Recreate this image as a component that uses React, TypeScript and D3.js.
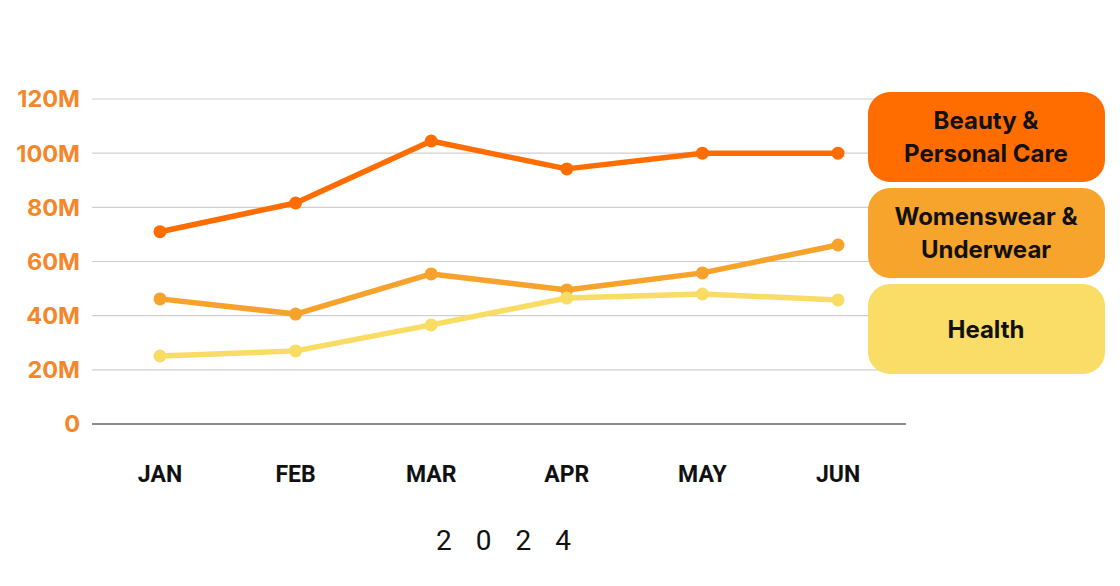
import * as d3 from 'd3';

const W = 1120, H = 586;
const ML = 92, MR = 214, MT = 99, MB = 162;

const months = ['JAN', 'FEB', 'MAR', 'APR', 'MAY', 'JUN'];
const yTicks = [0, 20, 40, 60, 80, 100, 120];
const beauty = [71, 81.6, 104.5, 94.2, 100, 100];
const womenswear = [46.2, 40.6, 55.4, 49.5, 55.8, 66.1];
const health = [25.1, 27, 36.6, 46.5, 48, 45.8];

const seriesNames = ['Beauty & Personal Care', 'Womenswear & Underwear', 'Health'];
const legendLines = [['Beauty &', 'Personal Care'], ['Womenswear &', 'Underwear'], ['Health']];
const colors = ['#ff6c00', '#f7a42c', '#f9dd66'];
const lineColors = ['#ff6d00', '#f6a22b', '#f9dc63'];

const series = [beauty, womenswear, health];

export default function App() {
  const x = d3.scalePoint<string>().domain(months).range([160, 838]);
  const y = d3.scaleLinear().domain([0, 120]).range([H - MB, MT]);
  const line = d3.line<number>()
    .x((_, i) => x(months[i]) as number)
    .y((d) => y(d));

  const legendY = d3.scaleBand<string>().domain(seriesNames).range([92, 374]).paddingInner(0.0625);

  return (
    <svg width={W} height={H} style={{ position: 'absolute', left: 0, top: 0, background: '#fff' }}>
      {/* grid */}
      {yTicks.map((t) => (
        <line key={t} x1={ML} x2={W - MR} y1={y(t)} y2={y(t)}
          stroke={t === 0 ? '#666' : '#cfcfcf'} strokeWidth={t === 0 ? 1.5 : 1.2} />
      ))}
      {yTicks.map((t) => (
        <text key={'l' + t} x={80} y={y(t)} dy="0.36em" textAnchor="end"
          fontFamily="Inter" fontWeight={700} fontSize={23.5} fill="#f5862a">
          {t === 0 ? '0' : `${t}M`}
        </text>
      ))}
      {months.map((m) => (
        <text key={m} x={x(m)} y={474} dy="0.36em" textAnchor="middle"
          fontFamily="Roboto" fontWeight={700} fontSize={23} fill="#111">{m}</text>
      ))}
      <text x={436} y={540} dy="0.36em" fontFamily="Roboto"
        fontSize={28} letterSpacing={24} fill="#111">2024</text>

      {series.map((s, i) => (
        <g key={seriesNames[i]}>
          <path d={line(s) as string} fill="none" stroke={lineColors[i]} strokeWidth={5.5} strokeLinejoin="round" />
          {s.map((v, j) => (
            <circle key={j} cx={x(months[j])} cy={y(v)} r={6.5} fill={lineColors[i]} />
          ))}
        </g>
      ))}

      {/* legend */}
      {seriesNames.map((n, i) => {
        const by = legendY(n) as number;
        const bh = legendY.bandwidth();
        const lines = legendLines[i];
        return (
          <g key={n}>
            <rect x={868} y={by} width={237} height={bh} rx={22} fill={colors[i]} />
            {lines.map((l, k) => (
              <text key={k} x={986} y={by + bh / 2 + (k - (lines.length - 1) / 2) * 33} dy="0.36em"
                textAnchor="middle" fontFamily="Inter" fontWeight={700} fontSize={24} fill="#111">{l}</text>
            ))}
          </g>
        );
      })}
    </svg>
  );
}
